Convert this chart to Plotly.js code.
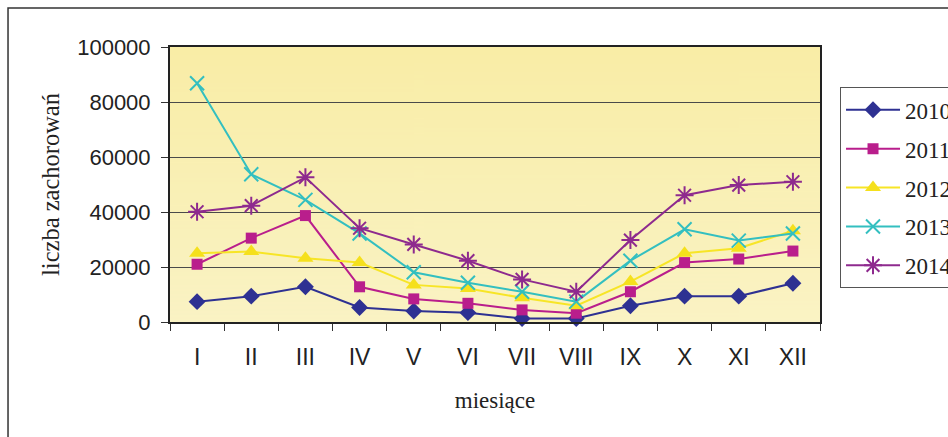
<!DOCTYPE html>
<html>
<head>
<meta charset="utf-8">
<script src="https://cdn.plot.ly/plotly-3.0.1.min.js"></script>
<style>
  html, body { margin: 0; padding: 0; background: #ffffff; }
  #chart { width: 948px; height: 437px; }
</style>
</head>
<body>
<div id="chart"></div>
<script>
// Monthly number of cases, 2010–2014
const months = ['I', 'II', 'III', 'IV', 'V', 'VI', 'VII', 'VIII', 'IX', 'X', 'XI', 'XII'];
const years = ['2010', '2011', '2012', '2013', '2014'];

const cases2010 = [7400, 9400, 12800, 5300, 4000, 3400, 1300, 1300, 5900, 9400, 9400, 14100];
const cases2011 = [21000, 30500, 38700, 12800, 8400, 6800, 4400, 3200, 11000, 21600, 22900, 25800];
const cases2012 = [25000, 25600, 23200, 21600, 13500, 12200, 8800, 5900, 14700, 25000, 26800, 33200];
const cases2013 = [86800, 53700, 44400, 32200, 18100, 14300, 11000, 7400, 22300, 33700, 29600, 32200];
const cases2014 = [40100, 42300, 52600, 34100, 28200, 22300, 15500, 11000, 29800, 46100, 49800, 51000];

const yTicks = [0, 20000, 40000, 60000, 80000, 100000];

const seriesValues = [cases2010, cases2011, cases2012, cases2013, cases2014];

// Series styling
const styles = [
  { line: '#2E3192', marker: '#2E3192', symbol: 'diamond', size: 13, lw: 0 },
  { line: '#B91E8C', marker: '#B91E8C', symbol: 'square', size: 11, lw: 0 },
  { line: '#F7E526', marker: '#F5E01C', symbol: 'triangle-up', size: 14, lw: 0 },
  { line: '#33BFC0', marker: '#33BFC0', symbol: 'x-thin-open', size: 14, lw: 2 },
  { line: '#8E2A8E', marker: '#8E2A8E', symbol: 'asterisk-open', size: 15, lw: 2 }
];

const traces = seriesValues.map((vals, i) => ({
  type: 'scatter',
  mode: 'lines+markers',
  name: years[i],
  legendgroup: years[i],
  x: months,
  y: vals,
  line: { color: styles[i].line, width: 2 },
  marker: {
    symbol: styles[i].symbol,
    size: styles[i].size,
    color: styles[i].marker,
    line: { color: styles[i].marker, width: styles[i].lw }
  },
  cliponaxis: false
}));

// Soft vertical fill for the plotting area
function gradientImage() {
  const c = document.createElement('canvas');
  c.width = 4; c.height = 256;
  const g = c.getContext('2d');
  const grad = g.createLinearGradient(0, 0, 0, 256);
  grad.addColorStop(0, '#F9EDA6');
  grad.addColorStop(1, '#FAF3C4');
  g.fillStyle = grad;
  g.fillRect(0, 0, 4, 256);
  return c.toDataURL('image/png');
}

const serif = '"Liberation Serif", "Times New Roman", serif';
const sans = '"Liberation Sans", Arial, sans-serif';

const layout = {
  width: 948,
  height: 437,
  margin: { l: 170, r: 128, t: 47, b: 115, autoexpand: false },
  paper_bgcolor: '#ffffff',
  plot_bgcolor: '#FAF0B4',
  showlegend: true,
  images: [{
    source: gradientImage(),
    xref: 'paper', yref: 'paper',
    x: 0, y: 1, sizex: 1, sizey: 1,
    xanchor: 'left', yanchor: 'top',
    sizing: 'stretch', layer: 'below'
  }],
  xaxis: {
    type: 'category',
    categoryarray: months,
    range: [-0.5, 11.5],
    tickson: 'boundaries',
    ticks: 'outside',
    ticklen: 7,
    tickwidth: 1,
    tickcolor: '#333333',
    showgrid: false,
    showline: true,
    linecolor: '#222222',
    linewidth: 2,
    mirror: true,
    ticklabelstandoff: 13,
    tickfont: { family: sans, size: 23, color: '#222222' },
    title: {
      text: 'miesiące',
      font: { family: serif, size: 23, color: '#222222' },
      standoff: 23
    },
    zeroline: false
  },
  yaxis: {
    range: [0, 100000],
    tickvals: yTicks,
    tickformat: 'd',
    ticks: 'outside',
    ticklen: 7,
    tickwidth: 1,
    tickcolor: '#333333',
    showgrid: true,
    gridcolor: '#4a4a4a',
    gridwidth: 1,
    showline: true,
    linecolor: '#222222',
    linewidth: 2,
    mirror: true,
    zeroline: false,
    ticklabelstandoff: 6,
    tickfont: { family: sans, size: 22, color: '#222222' },
    title: {
      text: 'liczba zachorowań',
      font: { family: serif, size: 24.5, color: '#222222' },
      standoff: 11
    }
  },
  legend: {
    x: 1.0308, xanchor: 'left',
    y: 0.8535, yanchor: 'top',
    bgcolor: '#ffffff',
    bordercolor: '#555555',
    borderwidth: 1,
    tracegroupgap: 6,
    itemwidth: 54,
    font: { family: serif, size: 23, color: '#222222' }
  },
  shapes: [{
    type: 'rect',
    xref: 'paper', yref: 'paper',
    x0: -0.2492, x1: 1.4,
    y0: -0.5, y1: 1.1418,
    line: { color: '#333333', width: 1.5 },
    fillcolor: 'rgba(0,0,0,0)',
    layer: 'below'
  }]
};

Plotly.newPlot('chart', traces, layout, { displayModeBar: false, staticPlot: true });
</script>
</body>
</html>
